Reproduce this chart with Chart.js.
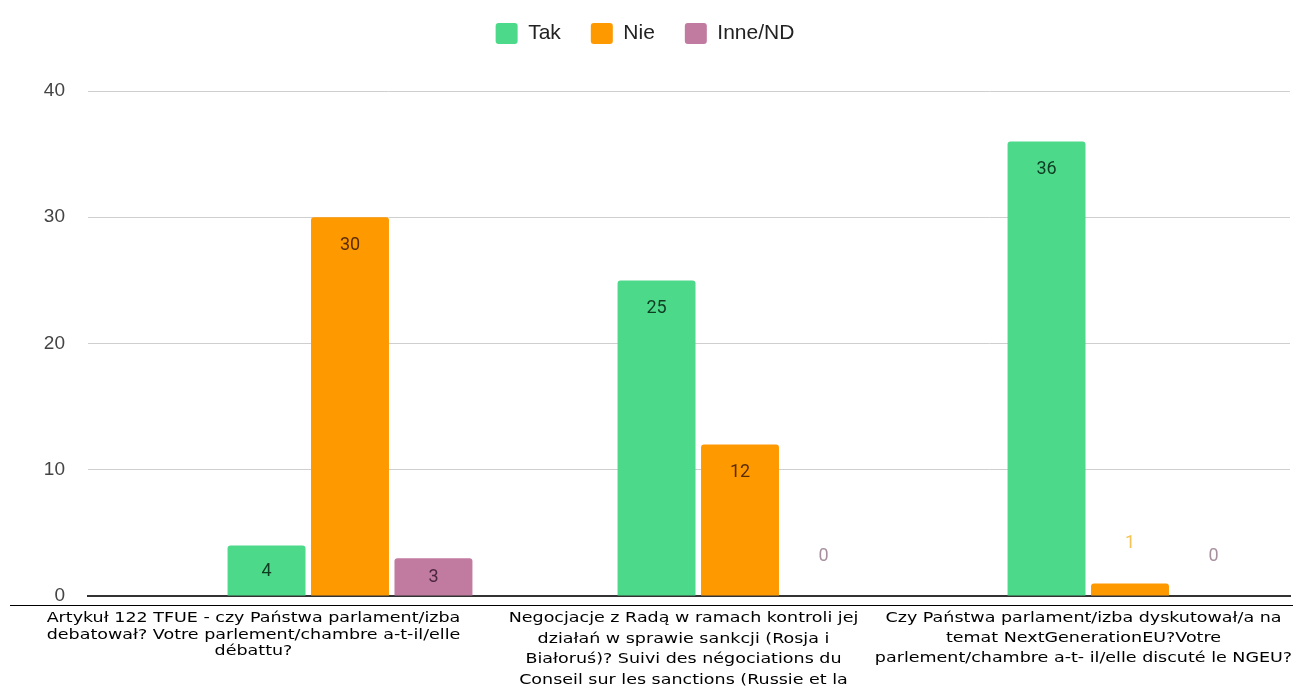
<!DOCTYPE html>
<html>
<head>
<meta charset="utf-8">
<script src="https://cdn.jsdelivr.net/npm/chart.js@4/dist/chart.umd.min.js"></script>
<style>
  html, body { margin: 0; padding: 0; background: #fff; }
  body { width: 1293px; height: 687px; overflow: hidden; position: relative; }
  #wrap { position: absolute; left: 0; top: -10px; width: 1293px; height: 641px; }
  #rule { position: absolute; left: 10px; right: 0; top: 605px; height: 1px; background: #000; }
  .cat {
    position: absolute; width: 431px; text-align: center; white-space: nowrap;
    font: 14px "DejaVu Sans", Verdana, sans-serif; color: #000;
    transform: scaleX(1.25); transform-origin: 50% 0;
  }
</style>
</head>
<body>
<div id="wrap"><canvas id="chart"></canvas></div>
<div id="rule"></div>
<div id="cats"></div>
<script>
// chart data
const categories = [
  ["Artykuł 122 TFUE - czy Państwa parlament/izba", "debatował? Votre parlement/chambre a-t-il/elle", "débattu?"],
  ["Negocjacje z Radą w ramach kontroli jej", "działań w sprawie sankcji (Rosja i", "Białoruś)? Suivi des négociations du", "Conseil sur les sanctions (Russie et la", "Biélorussie)?"],
  ["Czy Państwa parlament/izba dyskutował/a na", "temat NextGenerationEU?Votre", "parlement/chambre a-t- il/elle discuté le NGEU?"]
];
const seriesNames = ["Tak", "Nie", "Inne/ND"];
const takValues = [4, 25, 36];
const nieValues = [30, 12, 1];
const inneValues = [3, 0, 0];
const yTicks = [0, 10, 20, 30, 40];

// styles
const barColors = ["#4dd98a", "#ff9900", "#c27ba0"];
const insideText = ["#0f3d22", "#5a2d00", "#4a2540"];
const outsideText = ["#8fd9ab", "#f3c455", "#a8909f"];

const allValues = [takValues, nieValues, inneValues];

// category labels under the chart (html text)
const catCenters = [253, 683, 1083];
const catTops = [609, 607, 607];
const catLineHeights = [16.5, 20.5, 20];
const catBox = document.getElementById("cats");
categories.forEach((lines, i) => {
  const d = document.createElement("div");
  d.className = "cat";
  d.style.left = (catCenters[i] - 215.5) + "px";
  d.style.top = catTops[i] + "px";
  d.style.lineHeight = catLineHeights[i] + "px";
  lines.forEach((ln, j) => {
    if (j > 0) d.appendChild(document.createElement("br"));
    d.appendChild(document.createTextNode(ln));
  });
  catBox.appendChild(d);
});

// value labels: inside the bar top, or above short bars
const barLabels = {
  id: "barLabels",
  afterDatasetsDraw(chart) {
    const ctx = chart.ctx;
    ctx.save();
    ctx.font = "18px Roboto";
    ctx.textAlign = "center";
    ctx.textBaseline = "middle";
    chart.data.datasets.forEach((ds, di) => {
      chart.getDatasetMeta(di).data.forEach((bar, i) => {
        const h = bar.base - bar.y;
        let y;
        if (h >= 25) {
          y = Math.min(bar.y + 28, (bar.y + bar.base) / 2 + 1);
          ctx.fillStyle = insideText[di];
        } else {
          y = bar.y - 40;
          ctx.fillStyle = outsideText[di];
        }
        ctx.fillText(String(ds.data[i].y), bar.x, y);
      });
    });
    ctx.restore();
  }
};

// index scale stretched so the groups sit where the sheet put them
const left = 88, right = 1290, firstCenter = 350, groupStep = 390;
const xMin = -(firstCenter - left) / groupStep;
const xMax = xMin + (right - left) / groupStep;

new Chart(document.getElementById("chart"), {
  type: "bar",
  data: {
    datasets: seriesNames.map((name, si) => ({
      label: name,
      data: categories.map((c, i) => ({ x: i, y: allValues[si][i] })),
      backgroundColor: barColors[si],
      borderWidth: 0,
      borderRadius: 3,
      categoryPercentage: 0.642,
      barPercentage: 0.934
    }))
  },
  options: {
    responsive: true,
    maintainAspectRatio: false,
    animation: false,
    layout: { padding: { top: 3, right: 3, bottom: 0, left: 0 } },
    plugins: {
      tooltip: { enabled: false },
      legend: {
        position: "top",
        labels: {
          font: { family: "Arial, 'Liberation Sans'", size: 21 },
          color: "#222",
          boxWidth: 22,
          boxHeight: 21,
          padding: 30,
          useBorderRadius: true,
          borderRadius: 3
        }
      }
    },
    scales: {
      x: {
        type: "linear",
        offset: false,
        min: xMin,
        max: xMax,
        ticks: { display: false, stepSize: 1, includeBounds: false },
        grid: { display: false, drawTicks: false, offset: false },
        border: { display: true, color: "#333", width: 2 },
        afterFit: (s) => { s.height = 35; }
      },
      spacer: {
        type: "category",
        position: "top",
        labels: [],
        ticks: { display: false },
        grid: { display: false, drawTicks: false },
        border: { display: false },
        afterFit: (s) => { s.height = 37; }
      },
      y: {
        min: yTicks[0],
        max: yTicks[yTicks.length - 1],
        afterBuildTicks: (s) => { s.ticks = yTicks.map((v) => ({ value: v })); },
        ticks: {
          font: { family: "Arial, 'Liberation Sans'", size: 19 },
          color: "#444",
          padding: 23
        },
        grid: { color: "#cfcfcf", lineWidth: 1, drawTicks: false },
        border: { display: false },
        afterFit: (s) => { s.width = left; }
      }
    }
  },
  plugins: [barLabels]
});
</script>
</body>
</html>
